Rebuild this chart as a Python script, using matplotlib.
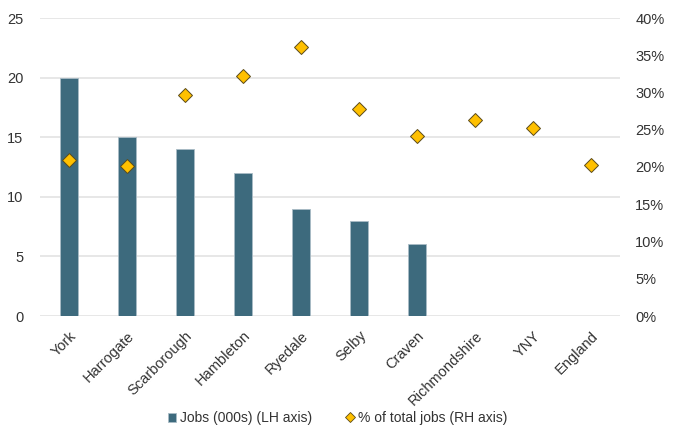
import numpy as np
import matplotlib.pyplot as plt
from matplotlib.ticker import PercentFormatter
from matplotlib.lines import Line2D
from matplotlib.patches import Patch

plt.rcParams['font.family'] = ['Liberation Sans', 'DejaVu Sans']

areas = ['York', 'Harrogate', 'Scarborough', 'Hambleton', 'Ryedale', 'Selby',
         'Craven', 'Richmondshire', 'YNY', 'England']
jobs = [20, 15, 14, 12, 9, 8, 6, np.nan, np.nan, np.nan]
share = [20.9, 20.2, 29.6, 32.2, 36.1, 27.8, 24.2, 26.3, 25.3, 20.3]

bar_col = '#3d6a7d'
dia_col = '#ffc000'
txt_col = '#333333'

fig = plt.figure(figsize=(6.75, 4.3), dpi=100)
ax = fig.add_axes([40/675, 1 - 316/430, 580/675, 298/430])
ax2 = ax.twinx()

x = np.arange(len(areas))
ax.bar(x, jobs, width=0.31, color=bar_col, edgecolor='#a9bcc6', linewidth=0.6, zorder=2)
ax2.plot(x, share, linestyle='none', marker='D', markersize=7.5,
         markerfacecolor=dia_col, markeredgecolor='#5a4a1a', markeredgewidth=0.7, zorder=3)

ax.set_xlim(-0.5, len(areas) - 0.5)
ax.set_ylim(0, 25)
ax.set_yticks(range(0, 26, 5))
ax2.set_ylim(0, 40)
ax2.set_yticks(range(0, 41, 5))
ax2.yaxis.set_major_formatter(PercentFormatter(decimals=0))

ax.yaxis.grid(True, color='#e3e3e3', linewidth=1.2, zorder=0)
ax.set_axisbelow(True)

ax.set_xticks(x)
ax.set_xticklabels(areas, rotation=45, ha='right', rotation_mode='anchor',
                   fontsize=9.8, color=txt_col)

for a in (ax, ax2):
    for s in a.spines.values():
        s.set_visible(False)
    a.tick_params(length=0, labelsize=10.5, colors=txt_col)
ax.tick_params(axis='x', pad=9)
ax.tick_params(axis='y', pad=12)
ax2.tick_params(axis='y', pad=11)

handles = [Patch(facecolor=bar_col, edgecolor='#a9bcc6', linewidth=0.6),
           Line2D([], [], linestyle='none', marker='D', markersize=5,
                  markerfacecolor=dia_col, markeredgecolor='#5a4a1a', markeredgewidth=0.6)]
fig.legend(handles, ['Jobs (000s) (LH axis)', '% of total jobs (RH axis)'],
           loc='center', bbox_to_anchor=(0.5, 1 - 418/430), ncol=2, frameon=False,
           fontsize=10, handlelength=0.6, handleheight=0.6, handletextpad=0.3,
           columnspacing=2.4, labelcolor=txt_col)

fig.savefig('out.png', dpi=100)
